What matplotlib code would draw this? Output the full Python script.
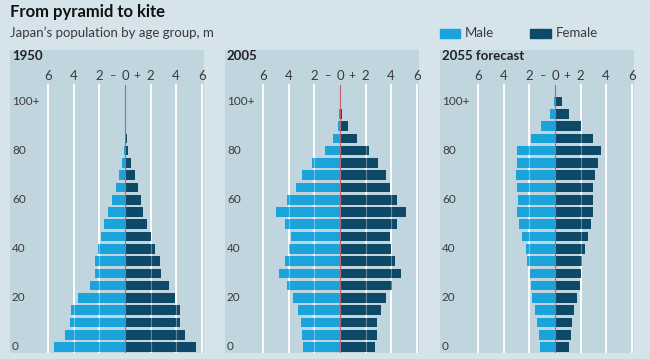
import matplotlib.pyplot as plt
import numpy as np

plt.rcParams['font.family'] = ['Lato', 'DejaVu Sans']

# age groups 0-4, 5-9, ... 100+
age_labels = ['0', '', '', '', '20', '', '', '', '40', '', '', '',
              '60', '', '', '', '80', '', '', '', '100+']

male_1950 = [5.58, 4.68, 4.29, 4.21, 3.69, 2.73, 2.34, 2.34, 2.13, 1.90, 1.61,
             1.35, 1.04, 0.73, 0.44, 0.23, 0.08, 0.03, 0.01, 0.0, 0.0]
female_1950 = [5.53, 4.73, 4.31, 4.31, 3.92, 3.45, 2.83, 2.73, 2.34, 2.03, 1.74,
               1.43, 1.22, 1.01, 0.75, 0.44, 0.26, 0.15, 0.05, 0.0, 0.0]

male_2005 = [2.86, 2.94, 3.04, 3.32, 3.71, 4.13, 4.81, 4.31, 4.03, 3.82, 4.34,
             5.01, 4.13, 3.43, 2.94, 2.21, 1.17, 0.57, 0.18, 0.05, 0.0]
female_2005 = [2.73, 2.91, 2.91, 3.19, 3.58, 4.10, 4.81, 4.31, 4.00, 3.90, 4.42,
               5.19, 4.42, 3.90, 3.61, 3.01, 2.23, 1.32, 0.65, 0.18, 0.03]

male_2055 = [1.17, 1.27, 1.38, 1.56, 1.77, 1.87, 1.95, 2.16, 2.26, 2.55, 2.83,
             2.94, 2.86, 2.94, 3.04, 2.94, 2.94, 1.90, 1.06, 0.39, 0.08]
female_2055 = [1.12, 1.22, 1.32, 1.51, 1.71, 1.92, 2.00, 2.10, 2.31, 2.60, 2.81,
               3.01, 3.01, 3.01, 3.12, 3.40, 3.61, 3.01, 2.00, 1.12, 0.52]

panels = [('1950', male_1950, female_1950),
          ('2005', male_2005, female_2005),
          ('2055 forecast', male_2055, female_2055)]

tick_pos = [-6, -4, -2, 0, 2, 4, 6]
tick_txt = ['6', '4', '2', '0', '2', '4', '6']

fig_bg = '#d5e3ea'
panel_bg = '#c1d5df'
male_c = '#1ba3dc'
female_c = '#0e4a68'
txt_c = '#3a3a3a'

W, H = 650, 359
fig = plt.figure(figsize=(6.5, 3.59), dpi=100, facecolor=fig_bg)

px = 12.78  # pixels per million
lefts = [10, 225, 440]
x0, x1 = -9.0, 6.2
ybot, ytop = -0.49, 24.2

for (name, male, female), lp in zip(panels, lefts):
    ax = fig.add_axes([lp / W, 6 / H, (x1 - x0) * px / W, 303 / H])
    ax.set_facecolor(panel_bg)
    ax.set_xlim(x0, x1)
    ax.set_ylim(ybot, ytop)
    for s in ax.spines.values():
        s.set_visible(False)
    ax.set_xticks([])
    ax.set_yticks([])

    y = np.arange(len(male))
    for t in tick_pos:
        if t != 0:
            ax.plot([t, t], [ybot, 21.35], color='white', lw=1.3, zorder=1)
    ax.barh(y, -np.array(male), height=0.78, color=male_c, zorder=2)
    ax.barh(y, female, height=0.78, color=female_c, zorder=2)
    for t in tick_pos:
        if t != 0:
            ax.plot([t, t], [ybot, 21.35], color='white', lw=0.8, alpha=0.35, zorder=3)
    ax.plot([0, 0], [ybot, 21.35], color='#c0606e', lw=0.8, zorder=4)

    for t, lab in zip(tick_pos, tick_txt):
        ax.text(t, 22.1, lab, ha='center', va='center', fontsize=9.5, color=txt_c)
    ax.text(-0.95, 22.1, '\u2013', ha='center', va='center', fontsize=8, color=txt_c)
    ax.text(0.95, 22.1, '+', ha='center', va='center', fontsize=8.5, color=txt_c)

    for i, lab in enumerate(age_labels):
        if lab:
            ax.text(-8.85, i, lab, ha='left', va='center', fontsize=8.5, color=txt_c)

    ax.text(-8.85, 23.75, name, ha='left', va='center', fontsize=9.5,
            fontweight='bold', color='#222222')

fig.text(10 / W, 1 - 12 / H, 'From pyramid to kite', ha='left', va='center',
         fontsize=12, fontweight='bold', color='#111111')
fig.text(10 / W, 1 - 33 / H, 'Japan\u2019s population by age group, m', ha='left',
         va='center', fontsize=9.5, color=txt_c)

# legend
fig.patches.append(plt.Rectangle((440 / W, 1 - 38 / H), 20 / W, 9 / H,
                                 transform=fig.transFigure, color=male_c))
fig.text(465 / W, 1 - 33 / H, 'Male', ha='left', va='center', fontsize=9.5, color=txt_c)
fig.patches.append(plt.Rectangle((530 / W, 1 - 38 / H), 21 / W, 9 / H,
                                 transform=fig.transFigure, color=female_c))
fig.text(556 / W, 1 - 33 / H, 'Female', ha='left', va='center', fontsize=9.5, color=txt_c)

fig.savefig('out.png', dpi=100, facecolor=fig_bg)
